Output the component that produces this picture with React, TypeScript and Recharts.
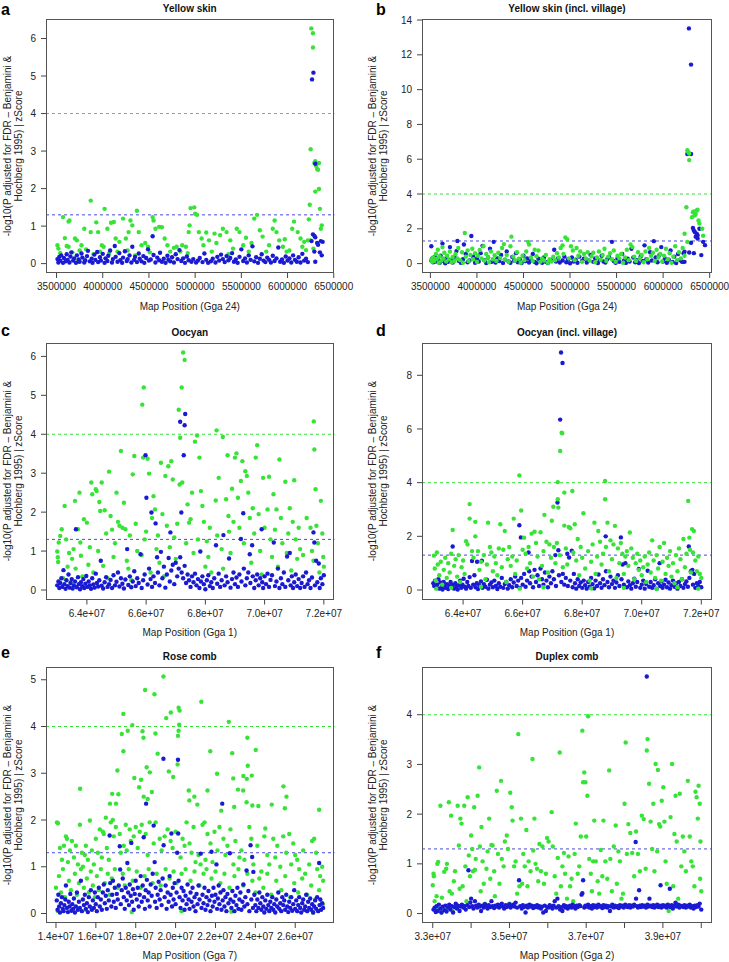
import React from "react";
import { ScatterChart, Scatter, XAxis, YAxis, ReferenceLine } from "recharts";

type Pt = [number, number];

const GREEN = "#36e336";
const BLUE = "#1a1ad2";
const FONT = '"Liberation Sans", Arial, Helvetica, sans-serif';

// positions in Mb, values in -log10(P)
const aGreen: Pt[] = [
  [3.51,0.49],[3.52,0.40],[3.54,0.28],[3.57,1.24],[3.59,0.68],[3.61,0.47],[3.63,1.12],[3.64,1.15],[3.63,0.45],[3.67,0.30],
  [3.70,0.67],[3.72,0.62],[3.73,0.05],[3.75,0.35],[3.77,0.49],[3.80,0.93],[3.82,0.38],[3.87,1.68],[3.87,0.84],[3.90,0.25],
  [3.93,1.10],[3.95,0.84],[3.97,0.32],[3.99,0.49],[4.01,0.45],[4.02,1.46],[4.05,0.93],[4.07,0.28],[4.09,1.09],[4.12,1.11],
  [4.14,0.67],[4.16,0.32],[4.18,0.58],[4.22,1.20],[4.25,0.67],[4.27,0.35],[4.28,0.84],[4.30,1.15],[4.32,1.02],[4.35,0.22],
  [4.37,1.41],[4.39,0.84],[4.42,0.49],[4.46,0.55],[4.49,0.45],[4.51,0.30],[4.54,1.24],[4.55,1.15],[4.57,0.93],[4.61,0.98],
  [4.64,0.97],[4.67,0.67],[4.70,0.49],[4.73,0.32],[4.77,0.42],[4.80,0.45],[4.84,0.32],[4.86,0.49],[4.90,0.45],[4.92,0.28],
  [4.93,0.84],[4.94,1.02],[4.95,1.48],[4.99,1.50],[5.00,1.33],[5.02,1.30],[5.04,0.84],[5.07,0.67],[5.09,0.49],[5.12,0.83],
  [5.15,0.62],[5.18,0.32],[5.21,0.80],[5.23,0.55],[5.27,0.76],[5.30,0.93],[5.34,0.84],[5.36,0.25],[5.38,0.62],[5.41,0.40],
  [5.45,0.93],[5.48,0.84],[5.52,0.49],[5.55,0.69],[5.58,0.32],[5.61,0.55],[5.64,1.20],[5.67,1.30],[5.70,0.89],[5.73,0.72],
  [5.77,0.32],[5.80,0.49],[5.84,0.93],[5.86,1.15],[5.88,0.84],[5.91,0.62],[5.95,0.45],[5.97,0.65],[5.99,0.32],[6.02,0.35],
  [6.05,0.93],[6.07,1.12],[6.11,0.84],[6.14,0.67],[6.16,0.45],[6.18,0.58],[6.20,0.36],[6.22,0.62],
  [6.25,3.05],[6.257,6.27],[6.275,6.14],[6.275,5.76],[6.24,1.57],[6.23,1.18],[6.30,2.73],[6.29,2.68],[6.31,2.60],[6.32,2.52],
  [6.33,2.50],[6.34,2.68],[6.30,1.92],[6.34,1.99],[6.35,1.46],[6.36,0.93],[6.37,1.02],[6.25,0.62],[6.28,0.40],
];
const aBlue: Pt[] = [
  [3.51,0.12],[3.52,0.03],[3.53,0.18],[3.54,0.08],[3.55,0.22],[3.57,0.02],[3.58,0.15],[3.60,0.06],[3.61,0.25],[3.62,0.10],
  [3.64,0.03],[3.65,0.19],[3.66,0.30],[3.68,0.08],[3.69,0.14],[3.71,0.02],[3.72,0.22],[3.74,0.11],[3.75,0.05],[3.77,0.27],
  [3.78,0.16],[3.80,0.03],[3.81,0.09],[3.83,0.20],[3.84,0.34],[3.86,0.06],[3.88,0.13],[3.89,0.02],[3.91,0.24],[3.92,0.10],
  [3.94,0.31],[3.95,0.04],[3.97,0.17],[3.98,0.08],[4.00,0.26],[4.02,0.02],[4.03,0.14],[4.05,0.07],[4.06,0.21],[4.08,0.35],
  [4.10,0.03],[4.11,0.12],[4.13,0.47],[4.14,0.18],[4.16,0.05],[4.18,0.28],[4.19,0.09],[4.21,0.02],[4.22,0.16],[4.24,0.33],
  [4.26,0.07],[4.27,0.12],[4.29,0.22],[4.31,0.03],[4.32,0.45],[4.34,0.10],[4.35,0.18],[4.37,0.04],[4.39,0.27],[4.40,0.13],
  [4.42,0.06],[4.44,0.20],[4.45,0.02],[4.47,0.15],[4.49,0.38],[4.50,0.08],[4.52,0.11],[4.54,0.73],[4.55,0.23],[4.57,0.03],
  [4.59,0.16],[4.61,0.09],[4.62,0.29],[4.64,0.05],[4.66,0.13],[4.68,0.02],[4.70,0.21],[4.71,0.10],[4.73,0.06],[4.75,0.17],
  [4.77,0.03],[4.79,0.25],[4.81,0.12],[4.83,0.36],[4.85,0.07],[4.87,0.14],[4.89,0.02],[4.91,0.19],[4.93,0.09],[4.96,0.05],
  [4.98,0.12],[5.01,0.03],[5.03,0.08],[5.05,0.15],[5.08,0.04],[5.10,0.27],[5.12,0.10],[5.14,0.02],[5.17,0.06],[5.19,0.13],
  [5.22,0.03],[5.24,0.18],[5.26,0.08],[5.28,0.24],[5.30,0.12],[5.32,0.04],[5.34,0.20],[5.36,0.09],[5.38,0.15],[5.40,0.28],
  [5.42,0.05],[5.44,0.11],[5.46,0.02],[5.48,0.18],[5.50,0.38],[5.52,0.07],[5.54,0.14],[5.56,0.03],[5.58,0.22],[5.60,0.10],
  [5.62,0.46],[5.64,0.06],[5.66,0.17],[5.68,0.02],[5.70,0.13],[5.72,0.25],[5.74,0.08],[5.76,0.04],[5.78,0.16],[5.80,0.10],
  [5.82,0.03],[5.84,0.21],[5.86,0.07],[5.88,0.14],[5.90,0.43],[5.92,0.05],[5.94,0.11],[5.96,0.02],[5.98,0.19],[6.00,0.08],
  [6.02,0.14],[6.04,0.03],[6.06,0.22],[6.08,0.10],[6.10,0.05],[6.12,0.17],[6.14,0.03],[6.16,0.26],[6.18,0.08],[6.20,0.13],
  [6.22,0.04],
  [6.28,5.09],[6.265,4.91],[6.30,2.66],[6.275,0.78],[6.29,0.74],[6.30,0.70],[6.29,0.32],[6.30,0.05],[6.32,0.55],[6.33,0.50],
  [6.36,0.60],[6.35,0.30],[6.37,0.22],[6.38,0.58],[6.26,0.60],
];

const bGreen: Pt[] = [
  [3.51,0.22],[3.52,0.10],[3.53,0.35],[3.54,0.15],[3.56,0.55],[3.57,0.28],[3.58,0.80],[3.59,0.05],[3.60,0.42],[3.62,0.18],
  [3.63,0.95],[3.64,0.30],[3.65,0.62],[3.67,0.12],[3.68,0.45],[3.70,0.25],[3.71,0.70],[3.73,0.08],[3.74,0.38],[3.76,0.15],
  [3.77,0.55],[3.79,0.30],[3.80,0.90],[3.82,0.20],[3.84,0.65],[3.85,0.05],[3.87,1.76],[3.88,0.40],[3.90,0.75],[3.91,0.15],
  [3.93,0.50],[3.95,0.85],[3.96,0.25],[3.98,0.60],[4.00,0.10],[4.01,0.45],[4.03,0.78],[4.05,0.30],[4.07,1.00],[4.08,0.18],
  [4.10,0.55],[4.12,0.35],[4.13,0.08],[4.15,0.70],[4.17,0.25],[4.19,0.48],[4.21,0.15],[4.23,0.62],[4.25,0.32],[4.27,0.90],
  [4.29,1.12],[4.30,0.22],[4.32,0.50],[4.34,0.10],[4.36,1.00],[4.37,1.55],[4.39,0.40],[4.41,0.18],[4.43,0.65],[4.45,0.28],
  [4.47,0.05],[4.49,0.45],[4.51,0.20],[4.53,0.70],[4.55,1.25],[4.56,1.10],[4.58,0.35],[4.60,0.15],[4.62,0.80],[4.64,0.42],
  [4.66,0.75],[4.68,0.10],[4.70,0.30],[4.72,0.18],[4.74,0.50],[4.76,0.05],[4.78,0.25],[4.80,0.12],[4.82,0.40],[4.84,0.20],
  [4.86,0.60],[4.88,0.35],[4.90,0.90],[4.92,1.05],[4.93,0.55],[4.95,1.50],[4.97,1.40],[4.99,0.30],[5.01,1.00],[5.03,0.75],
  [5.05,0.20],[5.07,0.90],[5.09,0.45],[5.11,0.70],[5.13,0.10],[5.15,0.55],[5.17,0.30],[5.19,0.65],[5.21,0.18],[5.23,0.42],
  [5.25,0.62],[5.27,0.08],[5.29,0.35],[5.31,0.70],[5.33,0.22],[5.35,0.50],[5.37,0.85],[5.39,0.15],[5.41,0.40],[5.43,0.60],
  [5.45,0.25],[5.47,0.75],[5.49,0.10],[5.51,0.45],[5.53,0.30],[5.55,0.55],[5.57,0.05],[5.59,0.35],[5.61,0.80],[5.63,0.20],
  [5.65,1.10],[5.67,0.95],[5.69,0.40],[5.71,0.15],[5.73,0.65],[5.75,0.30],[5.77,0.50],[5.79,0.08],[5.81,0.70],[5.83,0.25],
  [5.85,0.90],[5.87,0.45],[5.89,0.62],[5.91,0.15],[5.93,0.80],[5.95,0.35],[5.97,0.55],[5.99,0.12],[6.01,0.45],[6.03,0.85],
  [6.05,0.25],[6.07,0.60],[6.09,0.05],[6.11,0.40],[6.13,1.00],[6.15,0.20],[6.17,0.65],[6.19,0.30],[6.21,0.90],[6.23,0.45],
  [6.26,6.52],[6.27,6.42],[6.28,6.33],[6.28,5.95],[6.25,3.24],[6.32,2.95],[6.34,2.77],[6.36,3.05],[6.35,2.85],[6.31,2.67],
  [6.38,2.48],[6.42,2.00],[6.43,1.60],[6.23,1.72],[6.26,1.25],[6.33,3.00],[6.37,3.10],[6.39,2.30],
];
const bBlue: Pt[] = [
  [3.51,1.00],[3.51,0.18],[3.52,0.30],[3.53,0.08],[3.55,0.40],[3.56,0.12],[3.58,0.22],[3.60,0.05],[3.61,0.45],[3.63,1.15],
  [3.64,0.15],[3.66,0.02],[3.67,0.30],[3.69,0.10],[3.71,0.95],[3.72,0.20],[3.74,0.06],[3.76,0.35],[3.78,0.72],[3.79,1.30],
  [3.81,0.14],[3.83,0.04],[3.85,0.25],[3.86,1.10],[3.88,0.55],[3.90,0.08],[3.92,0.18],[3.94,1.59],[3.96,0.40],[3.98,0.05],
  [4.00,0.28],[4.02,0.12],[4.04,0.60],[4.06,1.02],[4.08,0.20],[4.10,0.03],[4.12,0.35],[4.14,0.85],[4.16,0.10],[4.18,1.25],
  [4.20,0.06],[4.22,0.30],[4.24,0.15],[4.26,0.50],[4.28,0.04],[4.30,0.22],[4.32,0.70],[4.34,0.12],[4.36,0.05],[4.38,0.38],
  [4.40,0.18],[4.42,0.60],[4.44,0.08],[4.46,0.25],[4.48,0.03],[4.50,0.45],[4.52,0.14],[4.54,0.30],[4.56,0.06],[4.58,0.20],
  [4.60,0.55],[4.62,0.10],[4.64,0.02],[4.66,0.28],[4.68,0.15],[4.70,0.05],[4.72,0.35],[4.74,0.10],[4.76,0.03],[4.80,0.20],
  [4.83,0.80],[4.85,0.12],[4.87,0.30],[4.89,0.06],[4.92,0.18],[4.94,0.40],[4.96,0.08],[4.98,0.25],[5.00,0.02],[5.02,0.35],
  [5.04,0.12],[5.06,0.22],[5.08,0.05],[5.10,0.40],[5.13,0.15],[5.15,0.28],[5.18,0.06],[5.20,0.18],[5.22,0.50],[5.25,0.10],
  [5.27,0.30],[5.30,0.03],[5.32,0.20],[5.34,0.45],[5.36,0.12],[5.38,0.06],[5.40,0.25],[5.42,0.38],[5.45,1.25],[5.47,0.15],
  [5.49,0.05],[5.51,0.30],[5.53,0.10],[5.56,0.55],[5.58,0.18],[5.60,0.04],[5.62,0.28],[5.64,0.12],[5.66,0.85],[5.68,0.35],
  [5.70,0.08],[5.72,0.20],[5.74,0.03],[5.76,0.42],[5.78,0.15],[5.80,1.05],[5.82,0.25],[5.84,0.06],[5.86,0.65],[5.88,0.18],
  [5.90,1.29],[5.92,0.35],[5.94,0.08],[5.96,0.50],[5.98,0.95],[6.00,0.12],[6.02,0.30],[6.04,0.05],[6.06,0.22],[6.08,0.75],
  [6.10,0.10],[6.12,0.40],[6.14,0.03],[6.16,0.55],[6.18,0.20],[6.20,0.12],[6.22,0.60],[6.23,0.10],
  [6.277,13.52],[6.30,11.44],[6.26,6.30],[6.30,6.30],[6.32,2.05],[6.34,1.82],[6.36,1.72],[6.37,1.63],[6.37,1.44],[6.39,2.00],
  [6.33,1.90],[6.35,1.55],[6.43,1.25],[6.45,1.06],[6.41,0.49],[6.28,0.64],[6.23,0.68],[6.21,0.10],[6.30,1.20],[6.33,0.60],
];

const cGreen: Pt[] = [
  [63.0,0.99],[63.02,0.84],[63.03,0.72],[63.05,1.22],[63.1,1.39],[63.15,1.56],[63.2,0.30],[63.25,2.16],[63.3,1.30],[63.35,0.60],
  [63.4,0.95],[63.45,0.20],[63.5,0.80],[63.55,1.05],[63.6,2.29],[63.62,0.55],[63.7,1.56],[63.75,2.50],[63.78,1.22],[63.8,0.88],
  [63.85,0.35],[63.9,1.82],[64.0,1.73],[64.05,0.65],[64.1,1.10],[64.15,2.76],[64.18,2.46],[64.22,0.45],[64.3,2.59],[64.33,2.54],
  [64.38,1.00],[64.42,2.26],[64.45,2.03],[64.5,2.76],[64.55,0.62],[64.6,2.05],[64.65,1.45],[64.7,0.30],[64.75,3.04],[64.8,1.90],
  [64.85,1.55],[64.9,0.85],[64.95,1.20],[65.0,2.50],[65.05,1.75],[65.1,1.65],[65.15,3.57],[65.2,1.60],[65.25,2.24],[65.3,1.56],
  [65.35,0.75],[65.4,0.55],[65.45,1.40],[65.5,0.25],[65.55,2.97],[65.6,3.44],[65.65,1.70],[65.7,1.00],[65.87,4.76],[65.92,5.20],
  [65.85,0.90],[65.9,3.40],[65.95,1.30],[66.0,1.50],[66.05,3.37],[66.1,2.99],[66.15,0.45],[66.2,1.85],[66.25,2.41],[66.3,2.07],
  [66.35,1.05],[66.4,1.40],[66.45,0.70],[66.5,3.27],[66.55,1.95],[66.6,0.35],[66.65,2.93],[66.7,1.65],[66.75,3.18],[66.8,1.10],
  [66.85,3.31],[66.9,2.84],[66.95,1.35],[67.0,0.80],[67.05,1.70],[67.1,4.63],[67.13,2.71],[67.15,3.91],[67.2,5.20],[67.22,2.76],
  [67.25,6.10],[67.3,5.91],[67.35,1.20],[67.4,2.20],[67.45,1.73],[67.5,1.82],[67.55,2.50],[67.6,0.95],[67.65,3.81],[67.72,3.97],
  [67.75,1.30],[67.8,3.40],[67.85,2.54],[67.9,2.16],[67.95,1.75],[68.0,0.60],[68.05,1.25],[68.1,0.85],[68.15,1.60],[68.2,0.45],
  [68.38,4.10],[68.35,2.30],[68.4,1.40],[68.45,2.88],[68.59,3.93],[68.55,1.05],[68.6,0.55],[68.75,3.46],[68.7,2.33],[68.78,1.90],
  [68.8,1.50],[68.85,0.95],[68.9,2.60],[68.95,1.75],[69.0,3.40],[69.05,3.51],[69.1,2.37],[69.15,1.60],[69.2,2.80],[69.25,3.31],
  [69.3,1.20],[69.35,3.05],[69.4,2.93],[69.45,2.50],[69.5,1.85],[69.55,0.70],[69.6,2.10],[69.65,1.45],[69.7,3.40],[69.75,3.72],
  [69.8,1.95],[69.85,1.00],[69.9,0.40],[69.95,2.88],[70.0,1.60],[70.1,2.07],[70.15,2.91],[70.2,1.30],[70.25,0.85],[70.3,2.46],
  [70.35,1.55],[70.4,2.07],[70.45,0.60],[70.5,3.35],[70.55,1.85],[70.6,1.20],[70.7,2.78],[70.75,0.95],[70.8,1.45],[70.85,2.10],
  [70.9,0.50],[70.95,1.75],[71.0,2.82],[71.05,1.30],[71.1,0.80],[71.15,1.60],[71.2,1.05],[71.3,0.90],[71.66,4.33],[71.68,3.61],
  [71.42,1.85],[71.72,2.59],[71.55,1.60],[71.6,1.00],[71.65,0.75],[71.9,2.29],[71.75,1.65],[71.8,1.20],[71.85,0.45],[71.95,1.45],
  [71.98,0.85],[72.0,0.60],
];
const cBlue: Pt[] = [
  [63.0,0.12],[63.04,0.22],[63.07,0.05],[63.1,0.18],[63.14,0.30],[63.17,0.08],[63.21,0.51],[63.24,0.15],[63.28,0.03],[63.31,0.25],
  [63.35,0.10],[63.38,0.40],[63.42,0.06],[63.45,0.18],[63.49,0.28],[63.52,0.04],[63.56,0.12],[63.6,0.22],[63.63,1.56],[63.66,0.07],
  [63.7,0.33],[63.73,0.15],[63.77,0.02],[63.8,0.20],[63.84,0.10],[63.88,0.28],[63.91,0.05],[63.95,0.16],[63.98,0.36],[64.02,0.08],
  [64.06,0.22],[64.1,0.12],[64.14,0.03],[64.18,0.30],[64.22,0.14],[64.26,0.06],[64.3,0.42],[64.34,0.18],[64.38,0.09],[64.42,0.25],
  [64.47,0.75],[64.5,0.11],[64.55,0.04],[64.6,0.20],[64.65,0.33],[64.7,0.08],[64.75,0.15],[64.8,0.26],[64.85,0.05],[64.9,0.38],
  [64.95,0.12],[65.0,0.21],[65.05,0.45],[65.1,0.09],[65.15,0.30],[65.2,0.16],[65.25,0.04],[65.3,0.27],[65.36,1.05],[65.4,0.13],
  [65.45,0.35],[65.5,0.07],[65.55,0.22],[65.6,0.48],[65.65,0.10],[65.7,0.30],[65.75,0.18],[65.81,0.92],[65.85,0.05],[65.9,0.25],
  [65.95,0.40],[66.01,2.37],[65.98,3.46],[66.05,0.14],[66.1,0.55],[66.18,1.99],[66.15,0.28],[66.2,0.08],[66.25,0.35],[66.32,1.71],
  [66.3,0.18],[66.37,0.84],[66.4,0.45],[66.45,0.12],[66.5,0.98],[66.55,0.30],[66.6,0.60],[66.65,0.06],[66.7,0.40],[66.76,0.82],
  [66.8,0.22],[66.82,1.48],[66.85,0.50],[66.9,0.65],[66.95,0.15],[67.0,0.70],[67.05,0.35],[67.1,0.55],[67.15,0.84],[67.15,4.32],
  [67.19,1.99],[67.2,0.45],[67.27,3.46],[67.3,4.23],[67.32,4.52],[67.25,0.30],[67.3,0.62],[67.35,0.18],[67.4,0.40],[67.45,0.25],
  [67.5,0.08],[67.55,0.35],[67.6,0.20],[67.65,0.42],[67.7,0.12],[67.75,0.28],[67.83,0.99],[67.8,0.05],[67.85,0.22],[67.9,0.35],
  [67.95,0.15],[68.0,0.02],[68.05,0.25],[68.1,0.38],[68.15,0.10],[68.2,0.20],[68.25,0.05],[68.3,0.30],[68.36,1.15],[68.4,0.16],
  [68.45,0.42],[68.5,0.08],[68.55,0.25],[68.61,1.41],[68.65,0.12],[68.7,0.35],[68.75,0.20],[68.8,0.81],[68.85,0.06],[68.9,0.28],
  [68.95,0.45],[69.0,0.15],[69.05,0.32],[69.1,0.08],[69.15,0.40],[69.2,1.31],[69.22,0.22],[69.28,1.97],[69.3,0.55],[69.35,0.12],
  [69.4,0.30],[69.45,0.45],[69.5,0.92],[69.52,0.18],[69.58,1.15],[69.6,0.35],[69.65,0.05],[69.7,0.25],[69.75,0.40],[69.8,0.12],
  [69.85,0.30],[69.9,1.56],[69.92,0.20],[69.95,0.05],[70.0,0.35],[70.05,0.15],[70.1,0.42],[70.15,0.08],[70.2,0.26],[70.25,0.38],
  [70.31,1.22],[70.35,0.10],[70.4,0.22],[70.45,0.55],[70.5,0.05],[70.55,0.30],[70.6,0.15],[70.65,0.45],[70.7,0.08],[70.76,0.86],
  [70.8,0.25],[70.85,0.95],[70.88,0.12],[70.92,0.35],[70.96,0.05],[71.0,0.20],[71.05,0.40],[71.1,0.10],[71.15,0.28],[71.2,0.05],
  [71.25,0.18],[71.3,0.35],[71.35,0.08],[71.4,0.45],[71.45,0.15],[71.5,0.25],[71.55,0.05],[71.6,0.32],[71.65,1.48],[71.68,1.22],
  [71.74,0.75],[71.7,0.12],[71.78,0.20],[71.83,0.68],[71.86,0.05],[71.9,0.30],[71.95,0.15],[72.0,0.38],
];

const dGreen: Pt[] = [
  [67.31,5.86],[67.33,5.84],[67.26,5.18],[67.18,4.02],[67.18,3.38],[67.2,3.07],[67.4,3.63],[67.67,3.69],[65.89,4.27],[65.95,2.96],
  [68.77,4.06],[68.77,3.38],[64.22,3.20],[64.22,2.66],[64.41,2.54],[64.41,2.00],[63.65,2.24],[71.56,3.32],[71.69,2.27],[64.84,2.51],
  [65.25,2.45],[65.4,2.20],[65.7,2.66],[66.4,2.17],[66.73,2.80],[67.03,3.10],[66.98,2.58],[67.4,2.40],[67.55,2.35],[67.6,2.30],
  [68.04,2.86],[68.41,2.51],[68.54,2.20],[68.85,2.51],[69.1,2.39],[69.6,2.14],
  [63.02,1.28],[63.05,0.80],[63.08,0.35],[63.12,1.40],[63.15,0.95],[63.2,0.55],[63.25,1.05],[63.3,0.20],[63.35,0.75],[63.4,1.20],
  [63.45,0.45],[63.5,1.00],[63.55,0.65],[63.6,1.35],[63.7,0.90],[63.75,1.15],[63.8,0.50],[63.85,1.30],[63.9,0.30],[63.95,0.85],
  [64.0,1.10],[64.05,0.60],[64.1,1.82],[64.15,1.70],[64.3,1.45],[64.35,1.20],[64.5,1.45],[64.55,0.75],[64.6,1.05],[64.7,1.30],
  [64.75,0.40],[64.8,0.95],[64.9,1.60],[64.95,1.40],[65.0,0.70],[65.05,1.25],[65.1,1.00],[65.15,0.55],[65.2,1.55],[65.3,0.85],
  [65.35,1.50],[65.45,0.30],[65.5,1.15],[65.55,1.60],[65.6,0.90],[65.65,1.25],[65.75,0.60],[65.8,1.10],[66.0,1.50],[66.05,1.95],
  [66.1,1.35],[66.15,0.80],[66.2,1.60],[66.25,1.00],[66.3,2.10],[66.35,0.50],[66.45,1.75],[66.5,1.25],[66.55,0.40],[66.6,2.15],
  [66.65,0.90],[66.7,1.45],[66.8,1.80],[66.85,0.65],[66.9,1.70],[66.95,1.20],[67.05,1.60],[67.1,1.00],[67.15,1.75],[67.25,1.30],
  [67.35,0.85],[67.45,1.55],[67.5,0.95],[67.7,1.40],[67.75,2.45],[67.8,1.10],[67.85,1.90],[67.9,0.55],[67.95,1.60],[68.0,1.20],
  [68.1,0.80],[68.2,1.45],[68.25,0.35],[68.3,1.05],[68.35,1.70],[68.45,0.60],[68.5,1.25],[68.6,1.80],[68.65,0.95],[68.7,1.35],
  [68.8,1.60],[68.9,0.70],[68.95,1.85],[69.0,1.15],[69.05,1.70],[69.15,0.45],[69.2,1.55],[69.25,1.00],[69.3,1.75],[69.35,1.35],
  [69.4,0.60],[69.45,1.25],[69.5,1.45],[69.55,0.90],[69.65,1.55],[69.7,1.20],[69.75,0.40],[69.8,1.00],[69.85,1.35],[69.9,0.75],
  [69.95,1.10],[70.0,0.55],[70.05,0.85],[70.1,1.25],[70.15,0.30],[70.2,0.95],[70.25,1.40],[70.3,0.65],[70.35,1.85],[70.4,1.10],
  [70.45,0.45],[70.5,1.30],[70.55,0.80],[70.6,1.60],[70.65,0.35],[70.7,1.05],[70.75,1.75],[70.8,0.60],[70.85,1.20],[70.9,0.90],
  [70.95,1.45],[71.0,0.50],[71.05,1.00],[71.1,0.25],[71.15,1.30],[71.2,0.70],[71.25,1.55],[71.3,1.15],[71.35,0.40],[71.4,1.90],
  [71.45,0.85],[71.5,1.35],[71.6,1.95],[71.62,1.50],[71.65,0.65],[71.72,1.40],[71.75,2.20],[71.8,1.10],[71.85,0.70],[71.9,1.25],
  [71.95,0.60],[72.0,0.45],
  [63.1,0.05],[63.6,0.08],[64.6,0.12],[65.9,0.05],[66.7,0.10],[68.3,0.06],[69.4,0.08],[70.5,0.04],[71.2,0.10],[71.9,0.05],
];
const dBlue: Pt[] = [
  [63.0,0.25],[63.03,0.15],[63.06,0.35],[63.1,0.08],[63.13,0.20],[63.17,0.40],[63.2,0.05],[63.24,0.28],[63.28,0.12],[63.31,0.02],
  [63.35,0.30],[63.38,0.18],[63.42,0.08],[63.46,0.22],[63.5,0.04],[63.54,0.15],[63.58,0.30],[63.62,0.10],[63.65,1.62],[63.66,0.20],
  [63.7,0.05],[63.74,0.25],[63.78,0.12],[63.82,0.02],[63.86,0.18],[63.9,0.35],[63.94,0.08],[63.98,0.20],[64.02,0.42],[64.06,0.12],
  [64.1,0.05],[64.14,0.30],[64.18,0.15],[64.22,0.48],[64.26,0.08],[64.3,1.08],[64.34,0.20],[64.38,0.55],[64.42,0.10],[64.46,0.25],
  [64.47,1.05],[64.5,0.04],[64.55,0.18],[64.6,0.32],[64.63,1.09],[64.65,0.08],[64.7,0.22],[64.75,0.12],[64.8,0.38],[64.85,0.05],
  [64.9,0.20],[64.95,0.28],[65.0,0.10],[65.05,0.35],[65.1,0.15],[65.15,0.04],[65.2,0.25],[65.25,0.12],[65.3,0.45],[65.35,0.08],
  [65.4,0.22],[65.45,0.30],[65.5,0.05],[65.55,0.18],[65.6,0.40],[65.65,0.10],[65.7,0.28],[65.75,0.50],[65.8,0.15],[65.85,0.35],
  [65.89,2.41],[65.94,1.96],[65.9,0.08],[65.95,0.45],[66.0,0.20],[66.05,0.60],[66.1,0.12],[66.15,0.35],[66.2,1.40],[66.22,0.70],
  [66.25,0.25],[66.3,0.50],[66.35,0.10],[66.4,0.75],[66.45,0.30],[66.5,0.55],[66.55,0.15],[66.6,0.80],[66.65,0.40],[66.7,0.20],
  [66.75,0.65],[66.8,0.35],[66.85,0.10],[66.9,0.50],[66.95,0.25],[67.0,0.70],[67.05,0.40],[67.1,1.30],[67.12,0.15],[67.17,3.26],
  [67.2,1.48],[67.22,0.55],[67.26,6.35],[67.29,8.85],[67.34,8.46],[67.3,0.30],[67.35,0.60],[67.4,0.20],[67.45,0.45],[67.5,1.35],
  [67.52,0.15],[67.56,1.21],[67.6,0.35],[67.65,1.46],[67.68,0.10],[67.72,0.60],[67.76,0.25],[67.8,0.05],[67.85,0.40],[67.9,0.15],
  [67.95,0.28],[68.0,0.08],[68.05,0.35],[68.1,0.18],[68.15,0.05],[68.2,0.30],[68.25,0.12],[68.3,0.45],[68.35,0.22],[68.4,0.06],
  [68.45,0.35],[68.5,0.15],[68.55,0.58],[68.6,0.25],[68.65,0.08],[68.7,0.40],[68.75,0.18],[68.79,2.00],[68.8,0.70],[68.85,0.30],
  [68.9,0.10],[68.95,0.50],[69.0,0.22],[69.05,0.35],[69.1,0.08],[69.15,0.28],[69.2,0.55],[69.25,0.15],[69.3,1.96],[69.32,0.40],
  [69.36,0.95],[69.4,0.20],[69.45,1.00],[69.5,0.10],[69.55,0.32],[69.6,0.18],[69.65,0.05],[69.7,0.25],[69.75,0.42],[69.8,0.12],
  [69.85,0.30],[69.9,0.78],[69.95,0.08],[70.0,0.20],[70.05,0.35],[70.1,0.05],[70.15,0.22],[70.2,0.72],[70.25,0.12],[70.3,0.30],
  [70.35,0.08],[70.4,0.18],[70.45,0.40],[70.5,0.05],[70.55,0.25],[70.6,1.00],[70.62,0.15],[70.66,0.32],[70.7,0.08],[70.75,0.20],
  [70.8,0.38],[70.85,0.10],[70.9,0.28],[70.95,0.05],[71.0,0.18],[71.05,0.35],[71.1,0.12],[71.15,0.25],[71.2,0.05],[71.25,0.30],
  [71.3,0.15],[71.35,0.40],[71.4,0.08],[71.45,0.22],[71.5,0.32],[71.55,0.12],[71.58,1.62],[71.6,0.45],[71.65,0.70],[71.7,0.75],
  [71.72,0.20],[71.76,0.60],[71.8,0.08],[71.85,0.25],[71.9,0.15],[71.95,0.30],[72.0,0.10],
];

const eGreen: Pt[] = [
  [19.39,5.07],[18.47,4.78],[18.94,4.69],[21.29,4.53],[17.38,4.27],[19.76,4.30],[20.15,4.40],[20.2,4.34],[19.53,4.18],[17.83,4.03],
  [22.67,4.10],[20.18,4.04],[20.15,3.91],[17.6,3.91],[18.34,3.90],[17.3,3.84],[18.39,3.76],[18.99,3.85],[20.12,3.80],[23.6,3.76],
  [17.38,3.47],[21.74,3.47],[22.84,3.43],[24.02,3.50],[19.1,3.42],[17.08,3.06],[18.55,3.13],[18.71,3.02],[20.1,3.19],[19.66,3.04],
  [19.88,2.92],[23.62,3.16],[23.82,2.95],[23.57,2.88],[23.4,2.94],[22.89,2.89],[22.08,2.99],[18.27,2.86],[18.17,2.70],[17.93,2.90],
  [15.21,2.67],[16.71,2.35],[16.82,2.56],[17.13,2.55],[17.01,2.35],[18.81,2.60],[18.6,2.45],[18.4,2.50],[20.69,2.42],[20.66,2.63],
  [20.94,2.50],[21.09,2.33],[21.6,2.63],[22.29,2.20],[22.94,2.28],[23.13,2.65],[23.39,2.63],[23.56,2.38],[23.85,2.31],[24.15,2.30],
  [24.82,2.33],[25.41,2.72],[25.56,2.50],[25.48,2.25],[27.2,2.22],
  [14.05,1.95],[14.1,1.93],[14.2,1.40],[14.3,1.15],[14.4,1.45],[14.5,1.65],[14.55,1.60],[14.6,1.10],[14.7,1.35],[14.8,1.55],
  [14.9,1.20],[15.0,1.45],[15.1,1.05],[15.2,1.90],[15.3,1.30],[15.35,1.00],[15.45,1.25],[15.5,1.45],[15.6,1.15],[15.7,1.99],
  [15.8,1.35],[15.9,1.05],[16.0,1.60],[16.1,1.30],[16.2,1.80],[16.3,1.20],[16.35,1.75],[16.4,1.70],[16.5,2.05],[16.55,1.40],
  [16.65,1.15],[16.75,1.95],[16.85,2.00],[16.9,1.65],[17.0,1.85],[17.2,1.70],[17.25,1.30],[17.4,1.45],[17.5,1.90],[17.55,1.35],
  [17.7,1.80],[17.75,1.55],[17.9,1.65],[18.0,1.85],[18.1,1.40],[18.2,1.75],[18.3,1.90],[18.5,1.70],[18.6,1.25],[18.7,1.95],
  [18.9,1.50],[19.0,1.95],[19.2,1.60],[19.3,1.35],[19.45,1.65],[19.6,1.80],[19.75,1.55],[19.85,1.40],[20.0,1.75],[20.25,1.20],
  [20.35,1.60],[20.45,1.45],[20.55,1.95],[20.7,1.50],[20.8,1.30],[20.9,1.85],[21.0,1.10],[21.15,1.25],[21.25,1.05],[21.35,1.90],
  [21.45,1.95],[21.5,1.15],[21.6,1.70],[21.75,1.50],[21.85,1.10],[21.95,1.75],[22.1,1.35],[22.2,1.85],[22.4,1.60],[22.5,1.25],
  [22.6,1.45],[22.75,1.80],[22.9,1.05],[23.0,1.55],[23.2,1.20],[23.3,1.35],[23.45,1.15],[23.7,1.85],[23.8,1.60],[23.9,1.05],
  [24.1,1.45],[24.3,0.90],[24.45,1.65],[24.5,1.82],[24.6,1.25],[24.7,1.05],[24.9,1.60],[25.0,1.20],[25.1,1.45],[25.25,1.00],
  [25.4,1.65],[25.55,1.30],[25.7,1.70],[25.8,1.05],[25.9,1.50],[26.0,1.25],[26.1,1.15],[26.2,0.95],[26.4,1.35],[26.5,0.85],
  [26.7,1.05],[26.85,1.55],[26.95,1.60],[27.05,1.30],[27.1,0.95],[27.25,0.80],[27.35,1.00],[27.4,0.70],
  [14.0,0.55],[14.15,0.80],[14.25,0.45],[14.35,0.95],[14.45,0.35],[14.65,0.70],[14.75,0.50],[14.95,0.85],[15.05,0.40],[15.15,0.65],
  [15.25,0.95],[15.4,0.55],[15.55,0.75],[15.65,0.45],[15.75,0.90],[15.85,0.60],[15.95,0.35],[16.05,0.80],[16.15,0.50],[16.25,0.95],
  [16.45,0.65],[16.6,0.85],[16.7,0.40],[16.8,0.75],[16.95,0.95],[17.1,0.55],[17.35,0.85],[17.45,0.60],[17.65,0.95],[17.85,0.70],
  [18.05,0.90],[18.25,0.55],[18.45,0.80],[18.65,0.95],[18.85,0.65],[19.05,0.85],[19.25,0.60],[19.5,0.95],[19.7,0.75],[19.9,0.90],
  [20.05,0.65],[20.3,0.85],[20.5,0.95],[20.75,0.70],[20.95,0.90],[21.2,0.60],[21.4,0.85],[21.55,0.95],[21.8,0.75],[22.0,0.90],
  [22.25,0.65],[22.45,0.85],[22.7,0.55],[22.95,0.80],[23.15,0.95],[23.4,0.60],[23.6,0.85],[23.85,0.70],[24.0,0.45],[24.2,0.75],
  [24.4,0.55],[24.6,0.85],[24.8,0.40],[25.05,0.70],[25.3,0.50],[25.5,0.80],[25.75,0.35],[25.95,0.65],[26.15,0.45],[26.35,0.75],
  [26.6,0.40],[26.8,0.60],[27.0,0.30],[27.2,0.50],[27.38,0.20],
  [14.1,0.05],[15.5,0.08],[17.8,0.03],[20.3,0.05],[22.8,0.04],[26.9,0.02],
];
const eBlue: Pt[] = [
  [14.04,0.28],[14.08,0.08],[14.12,0.40],[14.16,0.15],[14.2,0.02],[14.25,0.22],[14.3,0.35],[14.34,0.10],[14.38,0.05],[14.42,0.18],
  [14.47,0.30],[14.5,0.60],[14.55,0.12],[14.6,0.03],[14.64,0.25],[14.68,0.15],[14.72,0.42],[14.77,0.06],[14.82,0.20],[14.86,0.10],
  [14.9,0.32],[14.95,0.02],[15.0,0.15],[15.05,0.45],[15.1,0.08],[15.15,0.25],[15.2,0.12],[15.25,0.70],[15.3,0.05],[15.35,0.30],
  [15.4,0.18],[15.45,0.40],[15.5,0.10],[15.55,0.22],[15.6,0.03],[15.65,0.35],[15.7,0.15],[15.75,0.50],[15.8,0.08],[15.85,0.28],
  [15.9,0.12],[15.95,0.45],[16.0,0.20],[16.05,0.05],[16.1,0.35],[16.15,0.55],[16.2,0.15],[16.25,0.30],[16.3,0.08],[16.35,0.45],
  [16.4,0.62],[16.45,0.22],[16.5,0.38],[16.55,0.10],[16.6,0.50],[16.65,0.28],[16.69,1.67],[16.72,0.65],[16.78,0.15],[16.82,0.40],
  [16.86,0.70],[16.9,0.25],[16.95,0.55],[17.0,0.12],[17.05,0.42],[17.1,0.30],[17.15,0.60],[17.2,1.44],[17.22,0.94],[17.25,0.20],
  [17.3,0.50],[17.35,0.75],[17.4,0.35],[17.45,0.10],[17.5,0.55],[17.55,0.28],[17.58,1.08],[17.62,0.45],[17.66,0.18],[17.7,0.62],
  [17.75,0.38],[17.78,1.51],[17.82,0.25],[17.86,0.52],[17.9,0.08],[17.95,0.42],[18.0,0.70],[18.05,0.30],[18.1,0.55],[18.15,0.15],
  [18.2,0.40],[18.25,0.80],[18.3,0.25],[18.35,0.60],[18.4,1.63],[18.42,0.35],[18.46,0.10],[18.5,0.50],[18.52,2.35],[18.56,0.72],
  [18.6,0.28],[18.65,0.45],[18.7,0.15],[18.75,0.62],[18.8,0.38],[18.85,0.85],[18.9,1.88],[18.95,1.10],[18.97,0.25],[19.0,0.55],
  [19.05,0.12],[19.1,0.40],[19.15,0.68],[19.2,0.30],[19.25,0.50],[19.3,0.18],[19.35,0.75],[19.39,3.31],[19.4,1.46],[19.45,0.35],
  [19.5,0.60],[19.55,0.10],[19.6,0.45],[19.65,0.25],[19.7,0.80],[19.75,0.40],[19.79,1.71],[19.82,0.15],[19.86,0.55],[19.9,0.30],
  [19.95,0.65],[20.0,0.20],[20.05,0.45],[20.08,1.30],[20.12,3.29],[20.13,1.71],[20.15,0.70],[20.2,0.35],[20.25,0.12],[20.3,0.55],
  [20.35,0.28],[20.4,0.48],[20.45,0.08],[20.5,0.38],[20.55,0.20],[20.6,0.62],[20.65,0.30],[20.7,0.10],[20.75,0.45],[20.8,0.25],
  [20.85,0.55],[20.9,0.15],[20.95,0.35],[21.0,0.05],[21.05,0.42],[21.1,0.20],[21.15,0.60],[21.2,0.30],[21.26,1.28],[21.3,0.12],
  [21.35,0.40],[21.4,0.22],[21.45,0.55],[21.5,0.08],[21.55,0.35],[21.6,0.18],[21.65,0.48],[21.7,0.28],[21.75,0.05],[21.8,1.32],
  [21.82,0.38],[21.86,0.15],[21.9,0.55],[21.95,0.25],[22.0,0.40],[22.05,1.05],[22.08,0.10],[22.12,0.32],[22.16,0.60],[22.2,0.20],
  [22.25,0.45],[22.3,0.08],[22.34,2.35],[22.36,0.28],[22.4,0.50],[22.45,0.15],[22.5,0.35],[22.55,0.05],[22.6,0.42],[22.65,0.22],
  [22.72,1.29],[22.75,0.30],[22.8,0.12],[22.85,0.48],[22.9,0.25],[22.95,0.05],[23.0,0.38],[23.05,0.18],[23.1,0.55],[23.15,0.10],
  [23.2,0.30],[23.25,0.45],[23.3,0.08],[23.35,0.25],[23.4,0.62],[23.45,0.15],[23.5,0.35],[23.56,0.92],[23.6,0.20],[23.65,0.48],
  [23.7,0.05],[23.76,1.46],[23.8,0.30],[23.84,1.21],[23.88,0.12],[23.9,0.89],[23.95,0.40],[24.0,0.18],[24.05,0.05],[24.1,0.30],
  [24.15,0.12],[24.2,0.45],[24.25,0.22],[24.3,0.08],[24.35,0.35],[24.4,0.15],[24.45,0.02],[24.5,0.28],[24.55,0.10],[24.6,0.40],
  [24.65,0.18],[24.7,0.05],[24.75,0.25],[24.8,0.12],[24.85,0.35],[24.9,0.08],[24.95,0.20],[25.0,0.02],[25.05,0.30],[25.1,0.15],
  [25.15,0.45],[25.2,0.10],[25.25,0.22],[25.3,0.05],[25.35,0.35],[25.4,0.18],[25.45,0.28],[25.5,0.08],[25.55,0.40],[25.6,0.15],
  [25.65,0.03],[25.7,0.25],[25.75,0.12],[25.8,0.35],[25.85,0.06],[25.9,0.20],[25.95,0.50],[26.0,0.10],[26.05,0.28],[26.1,0.05],
  [26.15,0.18],[26.2,0.35],[26.25,0.12],[26.3,0.02],[26.35,0.22],[26.4,0.30],[26.45,0.08],[26.5,0.15],[26.55,0.40],[26.6,0.05],
  [26.65,0.25],[26.7,0.12],[26.75,0.32],[26.8,0.08],[26.85,0.20],[26.9,0.02],[26.95,0.15],[27.0,0.28],[27.05,0.10],[27.1,0.35],
  [27.15,0.05],[27.2,1.08],[27.22,0.18],[27.26,0.30],[27.3,0.08],[27.35,0.22],[27.4,0.12],
];

const fGreen: Pt[] = [
  [33.0,0.57],[33.02,0.80],[33.03,0.75],[33.05,0.25],[33.07,0.05],[33.1,0.35],[33.12,1.00],[33.14,1.04],[33.15,0.10],[33.2,2.17],
  [33.22,0.02],[33.24,0.32],[33.3,0.84],[33.33,0.08],[33.35,0.90],[33.37,1.00],[33.42,2.24],[33.44,0.45],[33.48,1.97],[33.5,0.40],
  [33.52,0.05],[33.55,0.65],[33.58,0.85],[33.6,0.15],[33.65,2.17],[33.68,1.37],[33.7,0.50],[33.72,1.91],[33.75,1.81],[33.78,0.55],
  [33.82,2.17],[33.85,0.95],[33.88,0.25],[33.91,2.34],[33.94,1.17],[33.97,0.75],[34.0,1.57],[34.03,1.30],[34.05,0.85],[34.08,2.14],
  [34.1,0.88],[34.12,1.10],[34.17,2.37],[34.21,2.94],[34.23,1.35],[34.25,0.45],[34.27,1.74],[34.3,1.05],[34.33,0.60],[34.36,0.20],
  [34.4,0.90],[34.43,1.25],[34.47,1.91],[34.5,0.70],[34.53,1.38],[34.56,1.37],[34.6,0.85],[34.62,0.35],[34.67,2.47],[34.7,1.20],
  [34.74,0.60],[34.78,2.67],[34.8,1.10],[34.85,0.95],[34.88,1.45],[34.93,1.57],[34.96,1.30],[35.0,0.20],[35.02,2.43],[35.06,2.14],
  [35.08,1.87],[35.12,0.95],[35.16,1.05],[35.2,0.40],[35.23,3.61],[35.26,0.55],[35.3,1.91],[35.33,0.60],[35.36,1.20],[35.4,0.95],
  [35.44,1.68],[35.47,0.55],[35.5,1.05],[35.55,0.85],[35.6,3.11],[35.62,1.27],[35.65,1.91],[35.68,1.00],[35.72,0.90],[35.75,0.65],
  [35.78,1.40],[35.82,0.85],[35.86,1.35],[35.9,0.60],[35.95,0.80],[35.98,1.52],[36.02,1.45],[36.06,0.15],[36.1,2.04],[36.13,1.35],
  [36.18,0.75],[36.22,0.40],[36.26,1.12],[36.31,3.24],[36.34,0.55],[36.38,0.95],[36.42,1.22],[36.45,0.80],[36.5,0.30],[36.54,1.15],
  [36.58,0.55],[36.62,0.70],[36.66,0.25],[36.7,1.20],[36.73,1.81],[36.78,0.80],[36.82,0.95],[36.86,1.55],[36.9,3.68],[36.92,2.64],
  [36.95,2.84],[36.98,2.64],[37.0,1.55],[37.03,2.37],[37.05,3.97],[37.08,1.10],[37.12,0.80],[37.15,0.45],[37.18,1.05],[37.21,1.87],
  [37.25,1.05],[37.3,0.65],[37.34,0.40],[37.38,1.28],[37.42,0.75],[37.45,1.87],[37.5,1.05],[37.55,0.70],[37.6,2.88],[37.63,1.10],
  [37.67,0.45],[37.72,1.35],[37.77,1.77],[37.8,0.60],[37.84,1.25],[37.88,1.05],[37.92,0.30],[37.96,0.40],[38.0,2.21],[38.03,3.44],
  [38.06,1.20],[38.1,1.80],[38.15,1.62],[38.2,1.22],[38.25,0.75],[38.3,1.65],[38.35,1.20],[38.4,0.85],[38.45,1.97],[38.5,1.90],
  [38.55,0.90],[38.58,3.28],[38.6,3.51],[38.64,2.61],[38.68,1.85],[38.72,1.30],[38.75,2.21],[38.78,0.85],[38.81,3.01],[38.85,1.25],
  [38.87,2.89],[38.9,1.80],[38.93,1.75],[38.97,2.27],[39.01,2.54],[39.04,1.85],[39.07,1.05],[39.1,0.60],[39.15,0.05],[39.2,1.94],
  [39.24,3.01],[39.27,0.55],[39.3,1.60],[39.33,2.37],[39.36,1.45],[39.4,0.30],[39.44,2.41],[39.48,0.95],[39.52,1.55],[39.56,1.25],
  [39.6,0.85],[39.65,2.67],[39.7,1.55],[39.74,1.05],[39.78,0.95],[39.82,0.55],[39.88,2.34],[39.91,1.91],[39.93,2.57],[39.96,2.21],
  [39.98,1.45],[40.0,0.45],[39.97,0.70],[39.85,2.45],
];
const fBlue: Pt[] = [
  [33.02,0.08],[33.05,0.12],[33.08,0.03],[33.1,0.15],[33.13,0.05],[33.16,0.18],[33.2,0.10],[33.23,0.02],[33.26,0.14],[33.3,0.07],
  [33.33,0.16],[33.36,0.04],[33.4,0.12],[33.43,0.18],[33.46,0.08],[33.5,0.15],[33.53,0.02],[33.56,0.13],[33.6,0.20],[33.63,0.10],
  [33.66,0.16],[33.7,0.05],[33.73,0.14],[33.76,0.18],[33.8,0.12],[33.83,0.15],[33.86,0.08],[33.9,0.17],[33.93,0.87],[33.95,0.13],
  [33.98,0.22],[34.0,0.30],[34.03,0.15],[34.06,0.10],[34.1,0.25],[34.13,0.16],[34.16,0.12],[34.2,0.18],[34.23,0.14],[34.26,0.05],
  [34.3,0.16],[34.33,0.12],[34.36,0.19],[34.4,0.15],[34.43,0.10],[34.46,0.17],[34.5,0.13],[34.53,0.25],[34.56,0.15],[34.6,0.11],
  [34.63,0.16],[34.66,0.14],[34.7,0.18],[34.73,0.12],[34.76,0.16],[34.8,0.20],[34.83,0.14],[34.86,0.10],[34.9,0.17],[34.93,0.13],
  [34.96,0.16],[35.0,0.19],[35.03,0.12],[35.06,0.15],[35.1,0.18],[35.13,0.14],[35.16,0.22],[35.2,0.12],[35.25,0.67],[35.28,0.15],
  [35.32,0.10],[35.35,0.17],[35.38,0.13],[35.42,0.02],[35.45,0.16],[35.48,0.12],[35.52,0.18],[35.55,0.14],[35.58,0.16],[35.62,0.11],
  [35.65,0.15],[35.68,0.13],[35.72,0.17],[35.75,0.12],[35.78,0.15],[35.82,0.10],[35.85,0.14],[35.88,0.02],[35.92,0.16],[35.95,0.05],
  [35.98,0.13],[36.02,0.12],[36.05,0.17],[36.08,0.14],[36.12,0.10],[36.15,0.16],[36.18,0.25],[36.22,0.12],[36.25,0.30],[36.28,0.15],
  [36.32,0.08],[36.35,0.13],[36.38,0.05],[36.42,0.17],[36.45,0.12],[36.48,0.15],[36.52,0.10],[36.55,0.14],[36.58,0.16],[36.62,0.12],
  [36.65,0.18],[36.68,0.14],[36.72,0.10],[36.75,0.16],[36.78,0.13],[36.82,0.17],[36.85,0.15],[36.88,0.38],[36.9,0.41],[36.92,0.67],
  [36.95,0.12],[36.98,0.16],[37.02,0.14],[37.05,0.18],[37.08,0.12],[37.12,0.15],[37.15,0.10],[37.18,0.17],[37.22,0.13],[37.25,0.16],
  [37.28,0.12],[37.32,0.18],[37.35,0.14],[37.38,0.15],[37.42,0.11],[37.45,0.17],[37.48,0.13],[37.52,0.16],[37.55,0.12],[37.58,0.15],
  [37.62,0.05],[37.65,0.14],[37.68,0.18],[37.72,0.12],[37.75,0.16],[37.78,0.13],[37.82,0.15],[37.85,0.11],[37.88,0.17],[37.92,0.14],
  [37.95,0.16],[37.98,0.12],[38.02,0.18],[38.05,0.15],[38.08,0.13],[38.12,0.17],[38.15,0.12],[38.18,0.16],[38.22,0.14],[38.25,0.18],
  [38.29,1.44],[38.3,0.30],[38.32,0.15],[38.35,0.12],[38.38,0.47],[38.4,0.16],[38.43,0.13],[38.46,0.17],[38.5,0.14],[38.53,0.16],
  [38.56,0.12],[38.58,4.77],[38.6,0.18],[38.63,0.14],[38.65,0.30],[38.68,0.16],[38.72,0.13],[38.75,0.17],[38.78,0.12],[38.82,0.15],
  [38.85,0.18],[38.88,0.13],[38.92,0.16],[38.94,0.57],[38.96,0.12],[39.0,0.17],[39.03,0.14],[39.06,0.16],[39.1,0.12],[39.13,0.18],
  [39.16,0.15],[39.18,0.50],[39.2,0.13],[39.23,0.17],[39.26,0.10],[39.3,0.16],[39.33,0.22],[39.36,0.14],[39.4,0.18],[39.43,0.12],
  [39.46,0.16],[39.5,0.15],[39.53,0.13],[39.56,0.17],[39.6,0.12],[39.63,0.16],[39.66,0.14],[39.7,0.18],[39.73,0.12],[39.76,0.15],
  [39.8,0.10],[39.83,0.16],[39.86,0.13],[39.9,0.17],[39.93,0.14],[39.96,0.20],[40.0,0.08],
];

// axis ticks
const abXTicks = [3500000, 4000000, 4500000, 5000000, 5500000, 6000000, 6500000];
const cdXTicks = [64e6, 66e6, 68e6, 70e6, 72e6];
const eXTicks = [14e6, 16e6, 18e6, 20e6, 22e6, 24e6, 26e6];
const fXTicks = [33e6, 34e6, 35e6, 36e6, 37e6, 38e6, 39e6, 40e6];
const fXLabelled = [33e6, 35e6, 37e6, 39e6];
const aYTicks = [0, 1, 2, 3, 4, 5, 6];
const bYTicks = [0, 2, 4, 6, 8, 10, 12, 14];
const cYTicks = [0, 1, 2, 3, 4, 5, 6];
const dYTicks = [0, 2, 4, 6, 8];
const eYTicks = [0, 1, 2, 3, 4, 5];
const fYTicks = [0, 1, 2, 3, 4];

const fdrCut = 4;
const bonfCut = 1.3;
const yTitle1 = "-log10(P adjusted for FDR \u2013 Benjamini &";
const yTitle2 = "Hochberg 1995) | zScore";

const YW = 40;
const MT = 4;
const MR = 30;
const XH = 30;

const plain = (v: number) => String(v);
const sci = (v: number) => (v / 1e7).toFixed(1) + "e+07";
const sciSome = (v: number) => (fXLabelled.includes(v) ? sci(v) : "");

const toRows = (pts: Pt[]) => pts.map(([x, y]) => ({ x: x * 1e6, y }));

const dot = (fill: string) => (props: any) => (
  <circle cx={props.cx} cy={props.cy} r={2.2} fill={fill} />
);

interface PanelProps {
  letter: string;
  title: string;
  xTitle: string;
  left: number;
  top: number;
  w: number;
  h: number;
  xDomain: [number, number];
  yDomain: [number, number];
  xTicks: number[];
  yTicks: number[];
  fmt: (v: number) => string;
  green: Pt[];
  blue: Pt[];
  greenOnTop?: boolean;
  gap: number;
  letterTop: number;
}

const tickStyle = { fontSize: 10, fill: "#222", fontFamily: FONT };

function Panel(p: PanelProps) {
  const g = (
    <Scatter key="g" data={toRows(p.green)} fill={GREEN} shape={dot(GREEN)} isAnimationActive={false} />
  );
  const b = (
    <Scatter key="b" data={toRows(p.blue)} fill={BLUE} shape={dot(BLUE)} isAnimationActive={false} />
  );
  const series = p.greenOnTop ? [b, g] : [g, b];
  const cy = p.top + p.h / 2;
  return (
    <>
      <div style={{ position: "absolute", left: p.left - YW, top: p.top - MT }}>
        <ScatterChart
          width={YW + p.w + MR}
          height={MT + p.h + XH}
          margin={{ top: MT, right: MR, bottom: 0, left: 0 }}
        >
          <XAxis
            type="number"
            dataKey="x"
            domain={p.xDomain}
            ticks={p.xTicks}
            allowDataOverflow
            interval={0}
            axisLine={false}
            tickLine={{ stroke: "#444" }}
            tickSize={5}
            tickMargin={5}
            height={XH}
            tick={tickStyle}
            tickFormatter={p.fmt}
          />
          <YAxis
            type="number"
            dataKey="y"
            domain={p.yDomain}
            ticks={p.yTicks}
            allowDataOverflow
            interval={0}
            axisLine={false}
            tickLine={{ stroke: "#444" }}
            tickSize={5}
            tickMargin={5}
            width={YW}
            tick={tickStyle}
          />
          <ReferenceLine y={fdrCut} stroke={GREEN} strokeDasharray="3 3" />
          <ReferenceLine y={bonfCut} stroke={BLUE} strokeDasharray="3 3" strokeOpacity={0.8} />
          {series}
        </ScatterChart>
      </div>
      <div
        style={{
          position: "absolute",
          left: p.left,
          top: p.top,
          width: p.w,
          height: p.h,
          border: "1px solid #555",
          boxSizing: "border-box",
          pointerEvents: "none",
        }}
      />
      <div
        style={{
          position: "absolute",
          left: p.left,
          top: p.top - 16,
          width: p.w,
          textAlign: "center",
          fontSize: 10,
          lineHeight: "12px",
          fontWeight: "bold",
          color: "#111",
        }}
      >
        {p.title}
      </div>
      <div
        style={{
          position: "absolute",
          left: p.left,
          top: p.top + p.h + 27.5,
          width: p.w,
          textAlign: "center",
          fontSize: 10,
          lineHeight: "12px",
          color: "#222",
        }}
      >
        {p.xTitle}
      </div>
      {[yTitle1, yTitle2].map((t, i) => (
        <div
          key={i}
          style={{
            position: "absolute",
            left: p.left - p.gap + i * 11,
            top: cy,
            transform: "translate(-50%, -50%) rotate(-90deg)",
            whiteSpace: "nowrap",
            fontSize: 10,
            lineHeight: "12px",
            color: "#222",
          }}
        >
          {t}
        </div>
      ))}
      <div
        style={{
          position: "absolute",
          left: p.left < 200 ? 1 : 376,
          top: p.letterTop,
          fontSize: 16,
          lineHeight: "18px",
          fontWeight: "bold",
          color: "#000",
        }}
      >
        {p.letter}
      </div>
    </>
  );
}

export default function App() {
  return (
    <div
      style={{
        position: "absolute",
        left: 0,
        top: 0,
        width: 729,
        height: 962,
        background: "#fff",
        fontFamily: FONT,
        overflow: "hidden",
      }}
    >
      <Panel letter="a" title="Yellow skin" xTitle="Map Position (Gga 24)"
        left={45.5} top={19} w={288.5} h={254} gap={38} letterTop={1}
        xDomain={[3386000, 6508000]} yDomain={[-0.25, 6.52]}
        xTicks={abXTicks} yTicks={aYTicks} fmt={plain}
        green={aGreen} blue={aBlue} />
      <Panel letter="b" title="Yellow skin (incl. village)" xTitle="Map Position (Gga 24)"
        left={422} top={19} w={290} h={254} gap={49} letterTop={1}
        xDomain={[3410000, 6525000]} yDomain={[-0.54, 14.06]}
        xTicks={abXTicks} yTicks={bYTicks} fmt={plain}
        green={bGreen} blue={bBlue} greenOnTop />
      <Panel letter="c" title="Oocyan" xTitle="Map Position (Gga 1)"
        left={45.5} top={343} w={288.5} h={256.5} gap={38} letterTop={322}
        xDomain={[62620000, 72360000]} yDomain={[-0.244, 6.344]}
        xTicks={cdXTicks} yTicks={cYTicks} fmt={sci}
        green={cGreen} blue={cBlue} />
      <Panel letter="d" title="Oocyan (incl. village)" xTitle="Map Position (Gga 1)"
        left={422} top={343} w={290} h={256.5} gap={49} letterTop={322}
        xDomain={[62620000, 72360000]} yDomain={[-0.354, 9.204]}
        xTicks={cdXTicks} yTicks={dYTicks} fmt={sci}
        green={dGreen} blue={dBlue} greenOnTop />
      <Panel letter="e" title="Rose comb" xTitle="Map Position (Gga 7)"
        left={45.5} top={666.5} w={288.5} h={256} gap={38} letterTop={644}
        xDomain={[13500000, 27970000]} yDomain={[-0.203, 5.273]}
        xTicks={eXTicks} yTicks={eYTicks} fmt={sci}
        green={eGreen} blue={eBlue} />
      <Panel letter="f" title="Duplex comb" xTitle="Map Position (Gga 2)"
        left={422} top={666.5} w={290} h={256} gap={49} letterTop={644}
        xDomain={[32720000, 40280000]} yDomain={[-0.19, 4.96]}
        xTicks={fXTicks} yTicks={fYTicks} fmt={sciSome}
        green={fGreen} blue={fBlue} />
    </div>
  );
}
